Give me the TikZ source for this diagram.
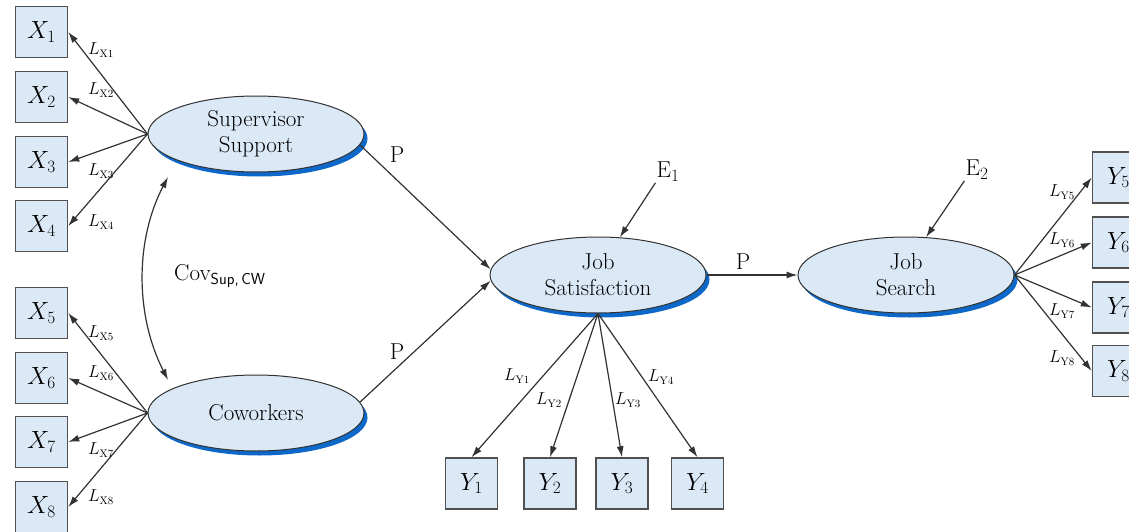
\documentclass[tikz,border=0pt]{standalone}
\usetikzlibrary{shapes.geometric,arrows.meta,calc,shadows}
\definecolor{boxfill}{RGB}{219,233,247}
\definecolor{shadowblue}{RGB}{14,104,202}
\definecolor{edgec}{RGB}{50,50,50}
\definecolor{boxline}{RGB}{80,80,80}
\begin{document}
\begin{tikzpicture}[x=1pt,y=-1pt,
  obs/.style={draw=boxline,line width=1.5pt,fill=boxfill,minimum width=52pt,minimum height=51pt,inner sep=0pt,font=\fontsize{24}{24}\selectfont},
  lat/.style={ellipse,draw=edgec,line width=1pt,fill=boxfill,minimum width=216pt,minimum height=76pt,inner sep=0pt,align=center,font=\fontsize{23}{26}\selectfont,
    drop shadow={shadow xshift=3.5pt,shadow yshift=-4.5pt,fill=shadowblue,opacity=1}},
  arr/.style={-{Latex[length=11pt,width=7pt]},draw=edgec,line width=1.2pt},
  lab/.style={inner sep=0pt,font=\fontsize{16}{16}\selectfont},
  txt/.style={inner sep=1pt,font=\fontsize{23}{23}\selectfont}]
\useasboundingbox (0,0) rectangle (1129,532);
% observed X
\node[obs] (x1) at (41.5,32) {$X_1$};
\node[obs] (x2) at (41.5,97) {$X_2$};
\node[obs] (x3) at (41.5,162) {$X_3$};
\node[obs] (x4) at (41.5,226) {$X_4$};
\node[obs] (x5) at (41.5,313) {$X_5$};
\node[obs] (x6) at (41.5,378) {$X_6$};
\node[obs] (x7) at (41.5,442) {$X_7$};
\node[obs] (x8) at (41.5,507) {$X_8$};
% observed Y
\node[obs] (y1) at (471.5,483.5) {$Y_1$};
\node[obs] (y2) at (550,483.5) {$Y_2$};
\node[obs] (y3) at (622,483.5) {$Y_3$};
\node[obs] (y4) at (697.5,483.5) {$Y_4$};
\node[obs] (y5) at (1118.5,177.5) {$Y_5$};
\node[obs] (y6) at (1118.5,242.5) {$Y_6$};
\node[obs] (y7) at (1118.5,307.5) {$Y_7$};
\node[obs] (y8) at (1118.5,371) {$Y_8$};
% latent
\node[lat] (sup) at (256,134) {Supervisor\\Support};
\node[lat] (cw) at (256,413) {Coworkers};
\node[lat] (js) at (598,275) {Job\\Satisfaction};
\node[lat] (srch) at (906,275) {Job\\Search};
% error terms
\node[txt] (e1) at (668,172) {E$_1$};
\node[txt] (e2) at (977,170) {E$_2$};
% loadings X
\foreach \i in {1,...,4} {\draw[arr] (sup.west) -- (x\i.east);}
\foreach \i in {5,...,8} {\draw[arr] (cw.west) -- (x\i.east);}
\node[lab] at (101,50) {$L_{\mathrm{X1}}$};
\node[lab] at (101,90) {$L_{\mathrm{X2}}$};
\node[lab] at (101,171) {$L_{\mathrm{X3}}$};
\node[lab] at (101,222) {$L_{\mathrm{X4}}$};
\node[lab] at (101,333) {$L_{\mathrm{X5}}$};
\node[lab] at (101,373) {$L_{\mathrm{X6}}$};
\node[lab] at (101,450) {$L_{\mathrm{X7}}$};
\node[lab] at (101,497) {$L_{\mathrm{X8}}$};
% loadings Y
\foreach \i in {1,...,4} {\draw[arr] (js.south) -- (y\i.north);}
\foreach \i in {5,...,8} {\draw[arr] (srch.east) -- (y\i.west);}
\node[lab] at (517,376) {$L_{\mathrm{Y1}}$};
\node[lab] at (549,400) {$L_{\mathrm{Y2}}$};
\node[lab] at (628,400) {$L_{\mathrm{Y3}}$};
\node[lab] at (661,377) {$L_{\mathrm{Y4}}$};
\node[lab] at (1062,192) {$L_{\mathrm{Y5}}$};
\node[lab] at (1062,240) {$L_{\mathrm{Y6}}$};
\node[lab] at (1062,311) {$L_{\mathrm{Y7}}$};
\node[lab] at (1062,358) {$L_{\mathrm{Y8}}$};
% structural paths
\draw[arr] (sup.-6) -- (js.177);
\draw[arr] (cw.6) -- (js.183);
\draw[arr] (js.east) -- (srch.west);
\node[txt] at (397,155) {P};
\node[txt] at (397,352) {P};
\node[txt] at (743,262) {P};
\draw[arr] (e1.south west) -- (js.60);
\draw[arr] (e2.south west) -- (srch.62);
% covariance
\coordinate (c1) at ($(sup.center)+(-88,43)$);
\coordinate (c2) at ($(cw.center)+(-88,-33)$);
\draw[{Latex[length=11pt,width=7pt]}-{Latex[length=11pt,width=7pt]},draw=edgec,line width=1.2pt]
  (c1) .. controls (135,240) and (135,315) .. (c2);
\node[txt,anchor=west] at (173,276) {Cov$_{\hbox{\fontsize{16}{16}\selectfont\sffamily Sup,\,CW}}$};
\end{tikzpicture}
\end{document}
